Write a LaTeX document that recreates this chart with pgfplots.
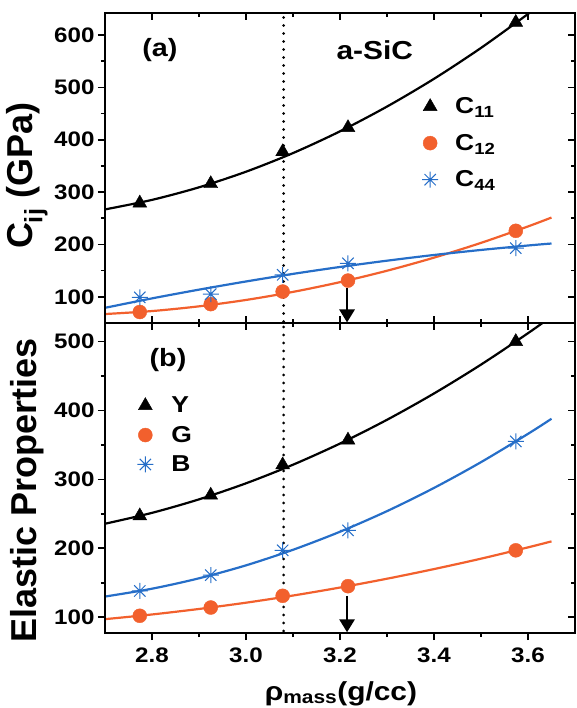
\documentclass[border=0pt]{standalone}
\usepackage{fontspec}
\setmainfont{Liberation Sans}
\newfontfamily\wide{Liberation Sans}[FakeStretch=1.15]
\usepackage{pgfplots}
\pgfplotsset{compat=1.18}
\usetikzlibrary{arrows.meta}
\definecolor{cor}{RGB}{242,96,45}
\definecolor{cbl}{RGB}{38,110,200}
\pgfdeclareplotmark{star8}{%
  \pgfpathmoveto{\pgfqpoint{0pt}{\pgfplotmarksize}}\pgfpathlineto{\pgfqpoint{0pt}{-\pgfplotmarksize}}%
  \pgfpathmoveto{\pgfqpoint{\pgfplotmarksize}{0pt}}\pgfpathlineto{\pgfqpoint{-\pgfplotmarksize}{0pt}}%
  \pgfpathmoveto{\pgfqpoint{0.707\pgfplotmarksize}{0.707\pgfplotmarksize}}\pgfpathlineto{\pgfqpoint{-0.707\pgfplotmarksize}{-0.707\pgfplotmarksize}}%
  \pgfpathmoveto{\pgfqpoint{-0.707\pgfplotmarksize}{0.707\pgfplotmarksize}}\pgfpathlineto{\pgfqpoint{0.707\pgfplotmarksize}{-0.707\pgfplotmarksize}}%
  \pgfusepathqstroke}
\pgfplotsset{
  base/.style={scale only axis, width=470pt, height=310pt, xmin=2.7, xmax=3.7,
    clip mode=individual,
    axis line style={line width=2pt},
    every tick/.style={black, line width=1.6pt},
    major tick length=7pt, minor tick length=4pt,
    xtick={2.8,3.0,3.2,3.4,3.6}, minor x tick num=1, minor y tick num=1,
    /pgf/number format/assume math mode=true,
    tick label style={font=\wide\bfseries\fontsize{21}{23}\selectfont},
    x tick label style={yshift=-4pt, /pgf/number format/.cd, fixed, fixed zerofill, precision=1},
    legend cell align=left,
  },
  cur/.style={line width=2.2pt, smooth, forget plot},
  dots/.style={black, line width=3pt, line cap=round, dash pattern=on 0pt off 8pt, forget plot},
}
\begin{document}
\begin{tikzpicture}
% ---------- upper panel ----------
\begin{axis}[base, at={(0,0)}, anchor=south west, ymin=50, ymax=642,
  ytick={100,200,...,600}, xticklabels={}, xtick align=inside, xtick pos=both,
  ytick pos=left, ytick align=outside,
  legend style={draw=none, fill=none, at={(rel axis cs:0.668,0.74)}, anchor=north west,
    font=\wide\bfseries\fontsize{23}{25}\selectfont, row sep=15pt, nodes={inner xsep=17pt}}]
\addplot[cor, cur] coordinates {(2.7,67.1) (2.8,72.8) (2.9,81.8) (3.0,94.0) (3.1,109.4) (3.2,128) (3.3,149.8) (3.4,174.8) (3.5,203) (3.6,234.4) (3.65,251.4)};
\addplot[cbl, cur] coordinates {(2.7,79) (2.8,97) (2.9,113.7) (3.0,129.3) (3.1,143.8) (3.2,157) (3.3,169) (3.4,179.9) (3.5,189.5) (3.6,198) (3.65,201.8)};
\addplot[black, cur] coordinates {(2.7,266.9) (2.8,285.1) (2.9,309.1) (3.0,338.9) (3.1,374.5) (3.2,416) (3.3,463.3) (3.4,516.3) (3.5,575.3) (3.6,640.1) (3.65,674)};
\addplot[dots] coordinates {(3.08,53) (3.08,642)};
\addplot[only marks, mark=triangle*, mark size=8pt, black] coordinates {(2.774,279) (2.925,316) (3.078,377) (3.217,423) (3.574,624)};
\addlegendentry{C\textsubscript{11}}
\addplot[only marks, mark=*, mark size=7pt, cor] coordinates {(2.774,71) (2.925,86) (3.078,110) (3.217,131) (3.574,226)};
\addlegendentry{C\textsubscript{12}}
\addplot[only marks, mark=star8, mark size=8pt, cbl, line width=1pt] coordinates {(2.774,99) (2.925,105) (3.078,142) (3.217,164) (3.574,193)};
\addlegendentry{C\textsubscript{44}}
\draw[line width=2.8pt, -{Triangle[width=15pt,length=13pt]}] (axis cs:3.215,116) -- (axis cs:3.215,51);
\node[font=\wide\bfseries\fontsize{25}{27}\selectfont] at (rel axis cs:0.117,0.88) {(a)};
\node[font=\wide\bfseries\fontsize{26}{28}\selectfont] at (rel axis cs:0.574,0.88) {a-SiC};
\node[rotate=90, font=\bfseries\fontsize{36}{38}\selectfont] at (rel axis cs:-0.166,0.475) {C\textsubscript{ij} (GPa)};
\end{axis}
\begin{axis}[base, at={(0,0)}, anchor=south west, ymin=50, ymax=642,
  ytick={100,200,...,600}, xtick=\empty, minor x tick num=0, xticklabels={}, yticklabels={},
  ytick pos=right, ytick align=inside]
\end{axis}
% ---------- lower panel ----------
\begin{axis}[base, at={(0,0)}, anchor=north west, ymin=77, ymax=527,
  ytick={100,200,...,500}, xtick pos=left, xtick align=outside,
  ytick pos=left, ytick align=outside,
  legend style={draw=none, fill=none, at={(rel axis cs:0.062,0.775)}, anchor=north west,
    font=\wide\bfseries\fontsize{23}{25}\selectfont, row sep=8pt, nodes={inner xsep=18pt}}]
\addplot[cor, cur] coordinates {(2.7,97.1) (2.8,103.9) (2.9,111.9) (3.0,121) (3.1,131.4) (3.2,143) (3.3,155.8) (3.4,169.8) (3.5,184.9) (3.6,201.3) (3.65,210)};
\addplot[cbl, cur] coordinates {(2.7,129.9) (2.8,141.3) (2.9,156.4) (3.0,175.2) (3.1,197.8) (3.2,224) (3.3,253.9) (3.4,287.6) (3.5,325) (3.6,366.1) (3.65,388)};
\addplot[black, cur] coordinates {(2.7,235.6) (2.8,251.4) (2.9,271) (3.0,294.3) (3.1,321.3) (3.2,352) (3.3,386.5) (3.4,424.7) (3.5,466.6) (3.6,512.2) (3.65,536.5)};
\addplot[dots] coordinates {(3.08,80) (3.08,527)};
\addplot[only marks, mark=triangle*, mark size=8pt, black] coordinates {(2.774,247) (2.925,277) (3.078,321) (3.217,357) (3.574,500)};
\addlegendentry{Y}
\addplot[only marks, mark=*, mark size=7pt, cor] coordinates {(2.774,102) (2.925,114) (3.078,131) (3.217,145) (3.574,197)};
\addlegendentry{G}
\addplot[only marks, mark=star8, mark size=8pt, cbl, line width=1pt] coordinates {(2.774,138) (2.925,161) (3.078,197) (3.217,226) (3.574,355)};
\addlegendentry{B}
\draw[line width=2.8pt, -{Triangle[width=15pt,length=13pt]}] (axis cs:3.215,131) -- (axis cs:3.215,78);
\node[font=\wide\bfseries\fontsize{25}{27}\selectfont] at (rel axis cs:0.134,0.88) {(b)};
\node[rotate=90, font=\bfseries\fontsize{36}{38}\selectfont] at (rel axis cs:-0.166,0.461) {Elastic Properties};
\node[font=\wide\bfseries\fontsize{26}{28}\selectfont] at (rel axis cs:0.502,-0.195) {ρ\textsubscript{mass}(g/cc)};
\end{axis}
\begin{axis}[base, at={(0,0)}, anchor=north west, ymin=77, ymax=527,
  ytick={100,200,...,500}, xticklabels={}, yticklabels={},
  xtick pos=right, xtick align=inside, ytick pos=right, ytick align=inside]
\end{axis}
\pgfresetboundingbox
\path[use as bounding box] (-105pt,-385pt) rectangle (471pt,323pt);
\end{tikzpicture}
\end{document}
